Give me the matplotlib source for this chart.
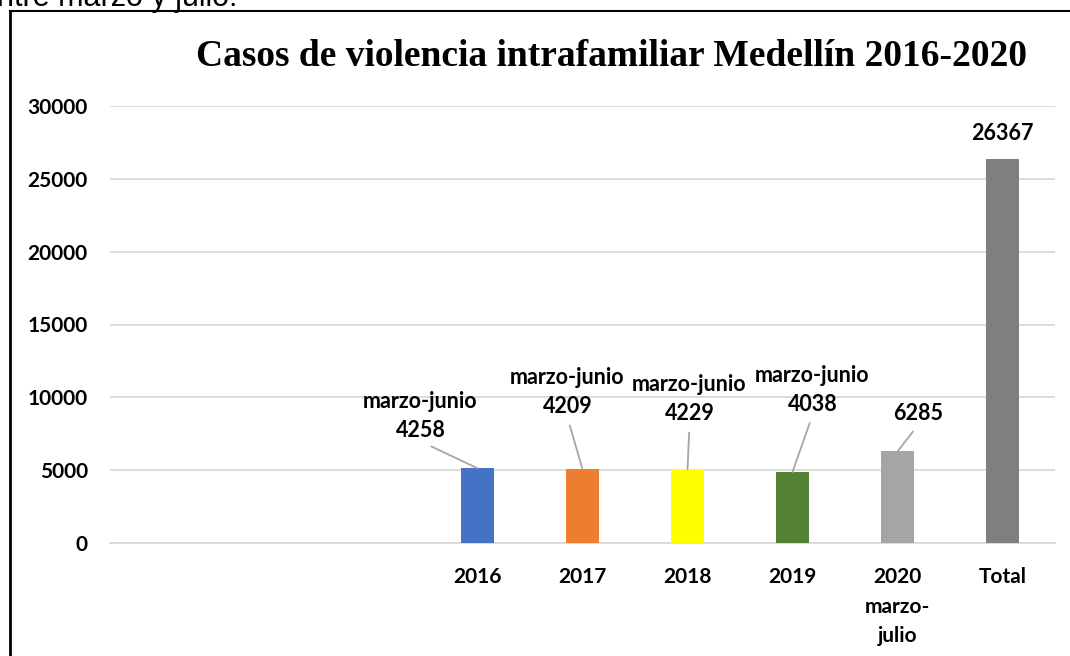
import matplotlib.pyplot as plt
from matplotlib.lines import Line2D

# data
categorias = ['', '', '', '2016', '2017', '2018', '2019', '2020\nmarzo-\njulio', 'Total']
valores = [0, 0, 0, 5130, 5060, 5060, 4870, 6285, 26367]
etiquetas = ['', '', '', 'marzo-junio\n4258', 'marzo-junio\n4209', 'marzo-junio\n4229',
             'marzo-junio\n4038', '6285', '26367']
colores = ['none', 'none', 'none', '#4472c4', '#ed7d31', '#ffff00', '#548235', '#a5a5a5', '#7f7f7f']

# label offsets (pixels) from bar top, None = no leader line
offsets = [None, None, None, (-57, 27), (-15, 52), (2, 45), (20, 57), (21, 27), None]

W, H = 1070, 656
fig = plt.figure(figsize=(W / 100, H / 100), dpi=100)
ax = fig.add_axes([110 / W, 1 - 543 / H, 945 / W, 437 / H])

x = list(range(len(categorias)))
ax.bar(x, valores, width=0.315, color=colores, zorder=3)
ax.set_xlim(-0.5, len(categorias) - 0.5)
ax.set_ylim(0, 30000)
ax.set_yticks(range(0, 30001, 5000))
ax.set_xticks(x)
ax.set_xticklabels(categorias, fontfamily='Lato', fontweight='bold', fontsize=15,
                   linespacing=1.62)
for t in ax.get_yticklabels():
    t.set_fontfamily('Lato')
    t.set_fontweight('bold')
    t.set_fontsize(15)
ax.tick_params(axis='x', length=0, pad=17)
ax.tick_params(axis='y', length=0, pad=16)
ax.grid(axis='y', color='#d9d9d9', linewidth=1.3, zorder=0)
ax.set_axisbelow(True)
for s in ['top', 'right', 'left']:
    ax.spines[s].set_visible(False)
ax.spines['bottom'].set_color('#d9d9d9')
ax.spines['bottom'].set_linewidth(1.3)

for i, v in enumerate(valores):
    if not etiquetas[i]:
        continue
    if offsets[i] is None:
        ax.annotate(etiquetas[i], xy=(i, v), xytext=(0, 15), textcoords='offset pixels',
                    ha='center', va='bottom', fontfamily='Lato', fontweight='bold', fontsize=15.5)
    else:
        ax.annotate(etiquetas[i], xy=(i, v), xytext=offsets[i], textcoords='offset pixels',
                    ha='center', va='bottom', fontfamily='Lato', fontweight='bold', fontsize=15.5,
                    linespacing=1.48,
                    arrowprops=dict(arrowstyle='-', color='#a6a6a6', lw=1.3,
                                    relpos=(0.5, 0), shrinkA=4, shrinkB=0))

# title
fig.text(612 / W, 1 - 56 / H, 'Casos de violencia intrafamiliar Medellín 2016-2020',
         ha='center', va='center', fontfamily='Liberation Serif', fontweight='bold', fontsize=27)

# frame of the embedded chart
fig.add_artist(Line2D([10 / W, 10 / W], [0, 1 - 11 / H], color='black', lw=2))
fig.add_artist(Line2D([10 / W, 1], [1 - 11 / H, 1 - 11 / H], color='black', lw=1.5))

# cut-off document text above the chart
fig.text(-3 / W, 1 - 6 / H, 'ntre marzo y julio.', ha='left', va='baseline',
         fontfamily='Liberation Sans', fontsize=22)

fig.savefig('out.png', dpi=100)
